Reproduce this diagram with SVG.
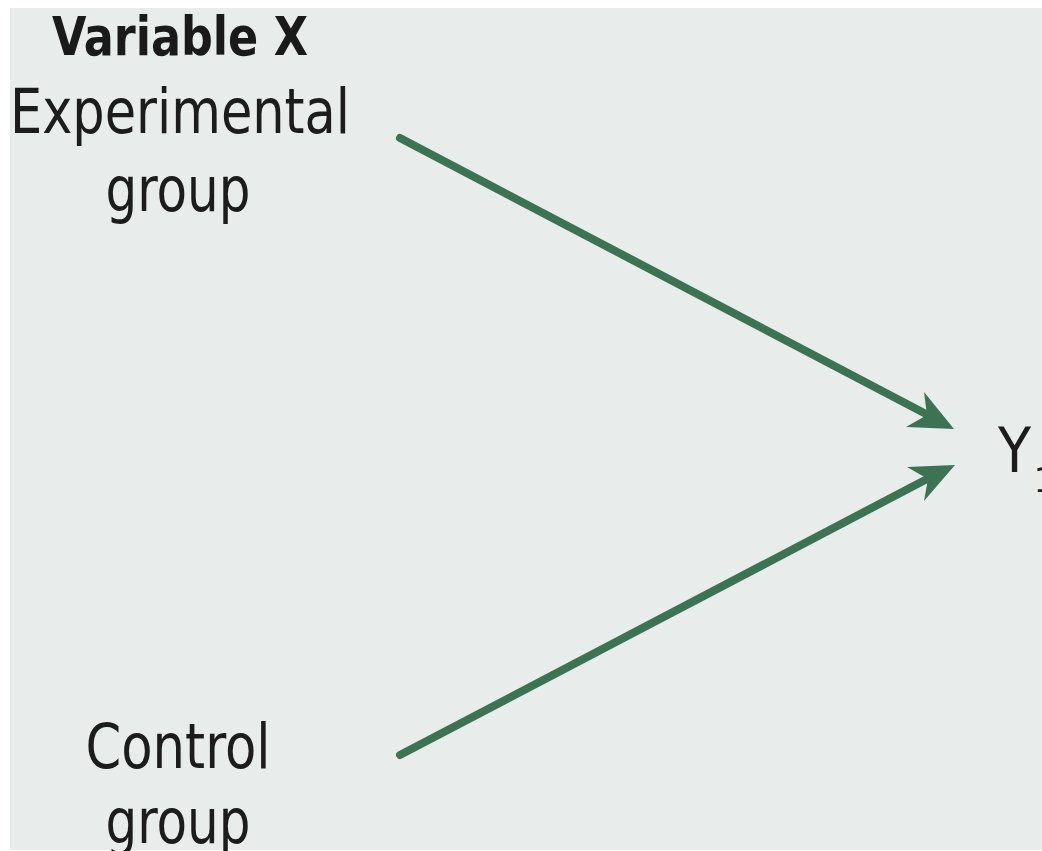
<svg xmlns="http://www.w3.org/2000/svg" width="1042" height="851" viewBox="0 0 1042 851">
<style>
.lbl{font-family:"Liberation Sans Narrow","DejaVu Sans Condensed","Liberation Sans",sans-serif;fill:#1c1c1c;font-size:62px;text-anchor:middle}
.ttl{font-family:"Liberation Sans Narrow","DejaVu Sans Condensed","Liberation Sans",sans-serif;fill:#1a1a1a;font-size:54px;font-weight:bold;text-anchor:middle}
.conn{stroke:#3b7353;stroke-width:8;stroke-linecap:round;fill:none}
.head{fill:#3b7353}
</style>
<rect width="1042" height="851" fill="#ffffff"/>
<rect x="10" y="8" width="1032" height="842" fill="#e8ecea"/>
<g id="title"><text class="ttl" x="180" y="55" textLength="256" lengthAdjust="spacingAndGlyphs">Variable X</text></g>
<g id="experimental"><text class="lbl" x="180" y="133" textLength="340" lengthAdjust="spacingAndGlyphs">Experimental</text><text class="lbl" x="178" y="211" textLength="145" lengthAdjust="spacingAndGlyphs">group</text></g>
<g id="control"><text class="lbl" x="178" y="768" textLength="185" lengthAdjust="spacingAndGlyphs">Control</text><text class="lbl" x="178" y="843" textLength="145" lengthAdjust="spacingAndGlyphs">group</text></g>
<g id="y1"><text class="lbl" x="998" y="472" style="text-anchor:start" textLength="33" lengthAdjust="spacingAndGlyphs">Y</text><text class="lbl" x="1034" y="492" style="text-anchor:start;font-size:34px">1</text></g>
<g id="connectors">
<line class="conn" x1="400" y1="138" x2="926" y2="414"/>
<polygon class="head" points="954,429 924,392 927,415 906,427"/>
<line class="conn" x1="400" y1="755" x2="927" y2="479"/>
<polygon class="head" points="955,465 907,467 928,479 924,501"/>
</g>
</svg>
